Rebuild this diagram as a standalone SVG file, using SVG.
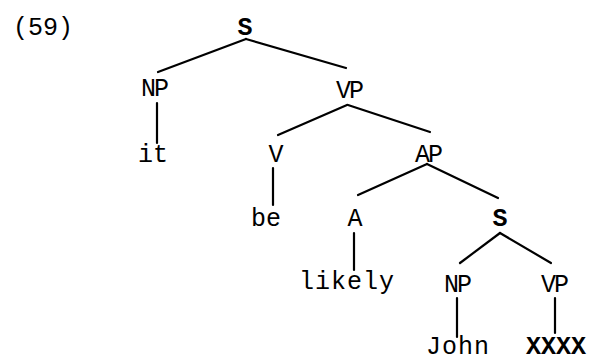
<svg xmlns="http://www.w3.org/2000/svg" width="599" height="362" viewBox="0 0 599 362">
<style>
text{font-family:"Liberation Mono","Courier New",monospace;font-size:25px;fill:#000;text-anchor:middle}
.b{font-weight:bold}
.lab{letter-spacing:-2px}
#edges line{stroke:#000;stroke-width:2.2;stroke-linecap:round}
</style>
<rect width="599" height="362" fill="#fff"/>
<text x="13" y="35" style="text-anchor:start;font-size:25px">(59)</text>
<g id="edges">
<line x1="246" y1="39" x2="158" y2="72"/>
<line x1="246" y1="39" x2="346" y2="68"/>
<line x1="157" y1="103" x2="157" y2="143"/>
<line x1="347" y1="105" x2="278" y2="135"/>
<line x1="348" y1="105" x2="430" y2="132"/>
<line x1="273" y1="168" x2="273" y2="205"/>
<line x1="427" y1="164" x2="358" y2="195"/>
<line x1="427" y1="164" x2="498" y2="198"/>
<line x1="354" y1="233" x2="354" y2="270"/>
<line x1="500" y1="233" x2="460" y2="263"/>
<line x1="500" y1="233" x2="551" y2="263"/>
<line x1="457" y1="298" x2="457" y2="337"/>
<line x1="555" y1="298" x2="555" y2="333"/>
</g>
<g id="S1"><text x="245" y="35" class="b">S</text></g>
<g id="NP1"><text x="154" y="96" class="lab">NP</text></g>
<g id="VP1"><text x="349" y="98" class="lab">VP</text></g>
<g id="it"><text x="153" y="162">it</text></g>
<g id="V"><text x="276" y="162">V</text></g>
<g id="AP"><text x="428" y="162" class="lab">AP</text></g>
<g id="be"><text x="266" y="226">be</text></g>
<g id="A"><text x="355" y="226">A</text></g>
<g id="S2"><text x="500" y="226" class="b">S</text></g>
<g id="likely"><text x="347" y="289" style="letter-spacing:1px">likely</text></g>
<g id="NP2"><text x="457" y="292" class="lab">NP</text></g>
<g id="VP2"><text x="554" y="292" class="lab">VP</text></g>
<g id="John"><text x="458" y="354" style="letter-spacing:1px">John</text></g>
<g id="XXXX"><text x="556" y="354" class="b" style="letter-spacing:0px">XXXX</text></g>
</svg>
